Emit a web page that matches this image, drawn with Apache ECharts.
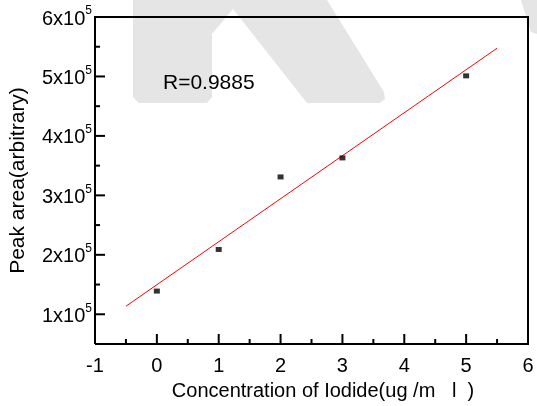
<!DOCTYPE html>
<html>
<head>
<meta charset="utf-8">
<script src="https://cdn.jsdelivr.net/npm/echarts@6/dist/echarts.min.js"></script>
<style>html,body{margin:0;padding:0;background:#fff;}#c{width:537px;height:406px;}</style>
</head>
<body>
<div id="c"></div>
<script>
// Data
const concX = [0, 1, 2, 3, 5];
const peakArea = [139000, 209000, 331000, 363000, 501000];
const fitX = [-0.5, 5.5];
const fitY = [113500, 547500];
// Axis ranges and ticks
const xMin = -1, xMax = 6;
const yMin = 50000, yMax = 600000;
const xMajorTicks = [-1, 0, 1, 2, 3, 4, 5, 6];
const xMinorTicks = [-0.5, 0.5, 1.5, 2.5, 3.5, 4.5, 5.5];
const yMajorTicks = [100000, 200000, 300000, 400000, 500000, 600000];
const yMinorTicks = [150000, 250000, 350000, 450000, 550000];
// Texts
const rLabel = 'R=0.9885';
const xName = 'Concentration of Iodide(ug /m   l  )';
const yName = 'Peak area(arbitrary)';

const FONT = 'Liberation Sans';
const WM = '#e5e5e5';

// tick items: [x, y, kind] kind 0 = x major, 1 = x minor, 2 = y major, 3 = y minor
const tickData = []
  .concat(xMajorTicks.map(v => [v, yMin, 0]))
  .concat(xMinorTicks.map(v => [v, yMin, 1]))
  .concat(yMajorTicks.map(v => [xMin, v, 2]))
  .concat(yMinorTicks.map(v => [xMin, v, 3]));
const frameData = [[xMin, yMin], [xMin, yMax], [xMax, yMax], [xMax, yMin], [xMin, yMin]];

const chart = echarts.init(document.getElementById('c'));
chart.setOption({
  animation: false,
  backgroundColor: '#fff',
  grid: {left: 95, right: 9, top: 17, bottom: 61, show: false},
  xAxis: {
    type: 'value', min: xMin, max: xMax, interval: 1,
    axisLine: {show: false, onZero: false},
    axisTick: {show: false},
    splitLine: {show: false},
    axisLabel: {color: '#000', fontSize: 20, fontFamily: FONT, margin: 12, showMinLabel: true, showMaxLabel: true},
    name: xName, nameLocation: 'middle', nameGap: 37, nameMoveOverlap: false,
    nameTextStyle: {color: '#000', fontSize: 20, fontFamily: FONT, padding: [0, 0, 0, 23]}
  },
  yAxis: {
    type: 'value', min: yMin, max: yMax, position: 'left',
    axisLine: {show: false, onZero: false},
    axisTick: {show: false},
    splitLine: {show: false},
    axisLabel: {
      customValues: yMajorTicks, margin: 3, color: '#000',
      formatter: function (v) { return '{a|' + Math.round(v / 100000) + 'x10}{b|5}'; },
      rich: {
        a: {fontSize: 20, fontFamily: FONT, color: '#000', lineHeight: 24, padding: [4, 0, 0, 0]},
        b: {fontSize: 12, fontFamily: FONT, color: '#000', verticalAlign: 'top', lineHeight: 14}
      }
    },
    name: yName, nameLocation: 'middle', nameGap: 66, nameRotate: 90, nameMoveOverlap: false,
    nameTextStyle: {color: '#000', fontSize: 21, fontFamily: FONT}
  },
  graphic: [
    {type: 'polygon', silent: true, z: -5, shape: {points: [[133,0],[327,0],[384,92],[385,99],[380,103],[307,103],[233,9],[212,34],[212,97],[207,103],[139,103],[133,97]]}, style: {fill: WM}},
    {type: 'polygon', silent: true, z: -5, shape: {points: [[521,0],[537,0],[537,34],[531,32]]}, style: {fill: WM}},
    {type: 'text', x: 163, y: 73, style: {text: rLabel, fontSize: 21, fontFamily: FONT, fill: '#000'}}
  ],
  series: [{
    type: 'line', data: frameData, symbol: 'none', clip: false, silent: true,
    lineStyle: {color: '#000', width: 2, join: 'miter'}, z: 5
  }, {
    type: 'custom', data: tickData, encode: {x: 0, y: 1}, clip: false, silent: true, z: 5,
    renderItem: function (params, api) {
      const p = api.coord([api.value(0), api.value(1)]);
      const kind = api.value(2);
      const len = (kind === 0 || kind === 2) ? 10 : 5;
      const shape = kind < 2
        ? {x1: p[0], y1: p[1], x2: p[0], y2: p[1] - len}
        : {x1: p[0], y1: p[1], x2: p[0] + len, y2: p[1]};
      return {type: 'line', shape: shape, style: {stroke: '#000', lineWidth: 2}};
    }
  }, {
    type: 'line', data: fitX.map((x, i) => [x, fitY[i]]), symbol: 'none', silent: true,
    lineStyle: {color: '#ff0000', width: 1}, z: 3
  }, {
    type: 'scatter', data: concX.map((x, i) => [x, peakArea[i]]), symbol: 'rect', symbolSize: [6, 5],
    itemStyle: {color: '#000'}, z: 4
  }]
});
</script>
</body>
</html>
